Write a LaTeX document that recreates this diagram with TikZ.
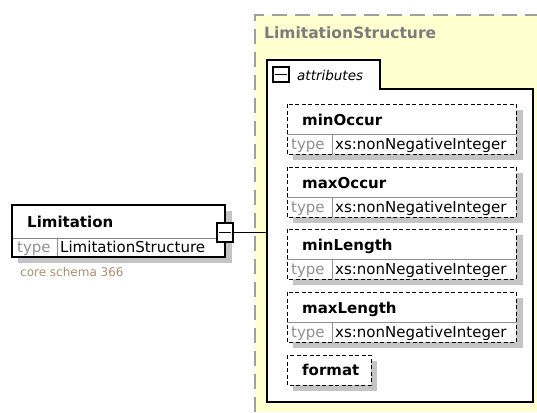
\documentclass[tikz,border=0pt]{standalone}
\usepackage{fontspec}
\setmainfont{DejaVu Sans}
\usepackage{xcolor}

\definecolor{yellowbg}{HTML}{FFFFD0}
\definecolor{dashgray}{HTML}{A0A0A0}
\definecolor{shadowgray}{HTML}{C4C4C4}
\definecolor{typegray}{HTML}{909090}
\definecolor{titlegray}{HTML}{7C7C7C}
\definecolor{corebrown}{HTML}{A8906F}

\tikzset{
  outerdash/.style={draw=dashgray, line width=1.6pt, dash pattern=on 15pt off 8pt},
  groupline/.style={draw=black, line width=1.6pt},
  attrbox/.style={draw=black, line width=0.9pt, dash pattern=on 4pt off 2.5pt},
  rowline/.style={draw=typegray, line width=0.9pt},
  minusbox/.style={draw=black, line width=2.2pt, fill=white, inner sep=0pt},
  namelabel/.style={anchor=base west, inner sep=0pt, font=\fontsize{15}{18}\selectfont\bfseries},
  typelabel/.style={anchor=base west, inner sep=0pt, font=\fontsize{15}{18}\selectfont, text=typegray},
  typevalue/.style={anchor=base west, inner sep=0pt, font=\fontsize{15}{18}\selectfont},
}

\begin{document}
\begin{tikzpicture}[x=1pt,y=-1pt]
  \useasboundingbox (0,0) rectangle (537,412);

  % Complex type area
  \fill[yellowbg] (255,15) rectangle (537,412);
  \draw[outerdash] (255,412) -- (255,15) -- (537,15);
  \node[namelabel, font=\fontsize{15.5}{18}\selectfont\bfseries, text=titlegray] (cttitle) at (264,38) {LimitationStructure};

  % Attributes group
  \draw[groupline, fill=white] (267,402) -- (267,60) -- (380,60) -- (380,89) -- (533,89) -- (533,402) -- cycle;
  \node[minusbox, line width=1.5pt, minimum width=16pt, minimum height=15pt] (attrminus) at (281,74.5) {};
  \draw[line width=1.4pt] ([xshift=3pt]attrminus.west) -- ([xshift=-3pt]attrminus.east);
  \node[typevalue, font=\fontsize{13.5}{16}\selectfont\itshape] (attrlabel) at (297,80) {attributes};

  % minOccur
  \fill[shadowgray] (293,110) rectangle (523,160);
  \fill[white] (287,104) rectangle (516,154);
  \draw[rowline] (287,134) -- (516,134);
  \draw[rowline] (332,134) -- (332,154);
  \draw[attrbox] (287,104) rectangle (516,154);
  \node[namelabel] (minoccur) at (302,125) {minOccur};
  \node[typelabel] (minoccurtype) at (291,149) {type};
  \node[typevalue] (minoccurval) at (335,149) {xs:nonNegativeInteger};

  % maxOccur
  \fill[shadowgray] (293,173) rectangle (523,223);
  \fill[white] (287,167) rectangle (516,217);
  \draw[rowline] (287,197) -- (516,197);
  \draw[rowline] (332,197) -- (332,217);
  \draw[attrbox] (287,167) rectangle (516,217);
  \node[namelabel] (maxoccur) at (302,188) {maxOccur};
  \node[typelabel] (maxoccurtype) at (291,212) {type};
  \node[typevalue] (maxoccurval) at (335,212) {xs:nonNegativeInteger};

  % minLength
  \fill[shadowgray] (293,235) rectangle (523,285);
  \fill[white] (287,229) rectangle (516,279);
  \draw[rowline] (287,259) -- (516,259);
  \draw[rowline] (332,259) -- (332,279);
  \draw[attrbox] (287,229) rectangle (516,279);
  \node[namelabel] (minlength) at (302,250) {minLength};
  \node[typelabel] (minlengthtype) at (291,274) {type};
  \node[typevalue] (minlengthval) at (335,274) {xs:nonNegativeInteger};

  % maxLength
  \fill[shadowgray] (293,298) rectangle (523,348);
  \fill[white] (287,292) rectangle (516,342);
  \draw[rowline] (287,322) -- (516,322);
  \draw[rowline] (332,322) -- (332,342);
  \draw[attrbox] (287,292) rectangle (516,342);
  \node[namelabel] (maxlength) at (302,313) {maxLength};
  \node[typelabel] (maxlengthtype) at (291,337) {type};
  \node[typevalue] (maxlengthval) at (335,337) {xs:nonNegativeInteger};

  % format
  \fill[shadowgray] (293,361) rectangle (377,391);
  \fill[white] (287,355) rectangle (371,385);
  \draw[attrbox] (287,355) rectangle (371,385);
  \node[namelabel] (format) at (302,375) {format};

  % Limitation element
  \fill[shadowgray] (18,211) rectangle (232,263);
  \fill[white] (12,205) rectangle (225,257);
  \draw[rowline, draw=gray] (12,238) -- (225,238);
  \draw[rowline] (57,238) -- (57,257);
  \draw[black, line width=1.3pt] (12,205) rectangle (225,257);
  \node[namelabel] (limitation) at (27,227) {Limitation};
  \node[typelabel] (limitationtype) at (17,252) {type};
  \node[typevalue] (limitationval) at (60,252) {LimitationStructure};
  \node[typevalue, font=\fontsize{12}{14}\selectfont, text=corebrown] (coreschema) at (20,276) {core schema 366};

  % Collapse box and link to the attributes
  \node[minusbox, minimum width=16pt, minimum height=19pt] (limminus) at (225,232.5) {};
  \draw[line width=1.6pt] ([xshift=3pt]limminus.west) -- ([xshift=-3pt]limminus.east);
  \coordinate (attrentry) at (267,232.5);
  \draw[line width=1.8pt] (limminus.east) -- (attrentry);
\end{tikzpicture}
\end{document}
